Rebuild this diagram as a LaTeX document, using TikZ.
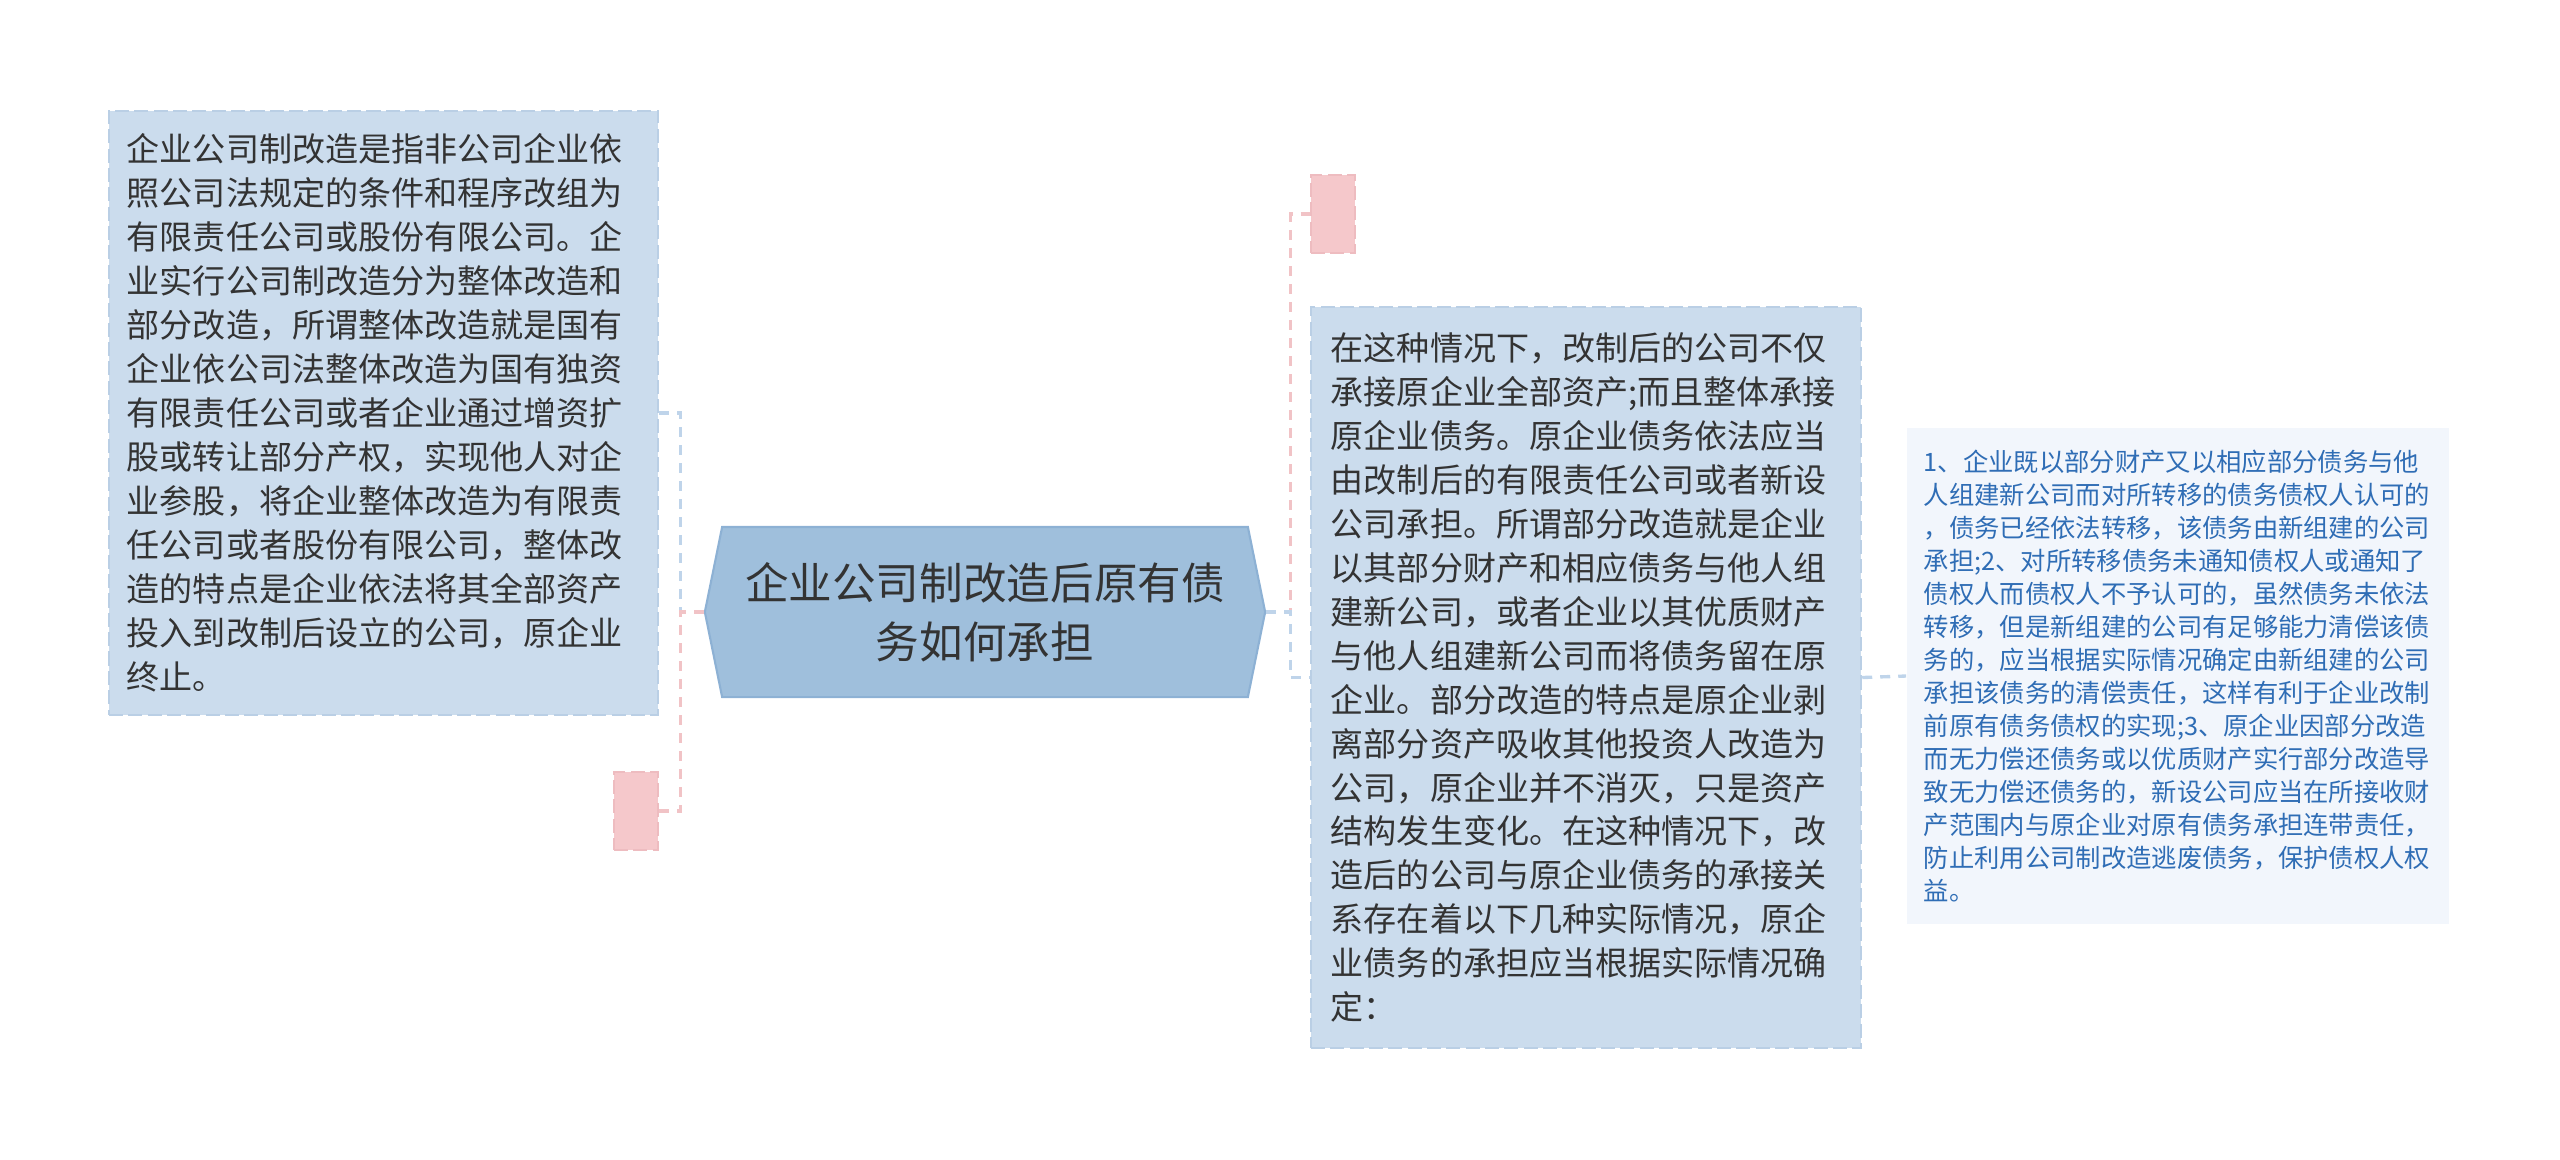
\documentclass[tikz,border=0pt]{standalone}
\usepackage{fontspec}
\newfontfamily\cjk{Noto Sans CJK SC}
\usetikzlibrary{shapes.symbols}
\definecolor{boxblue}{HTML}{CBDCED}
\definecolor{boxedge}{HTML}{BACFE5}
\definecolor{rootblue}{HTML}{9FBFDC}
\definecolor{rootedge}{HTML}{8DB1D4}
\definecolor{pinkfill}{HTML}{F5C8CB}
\definecolor{pinkedge}{HTML}{EEBCC0}
\definecolor{paleblue}{HTML}{F2F6FC}
\definecolor{linkblue}{HTML}{BFD4EA}
\definecolor{linkpink}{HTML}{F1C3C6}
\definecolor{inkdark}{HTML}{333333}
\definecolor{inkblue}{HTML}{2F6DB5}
\tikzset{
  topic/.style={
    rectangle, fill=boxblue, draw=boxedge, line width=0.6pt,
    dash pattern=on 4pt off 1.5pt,
    inner xsep=0.18cm, inner ysep=0pt, align=left, text=inkdark,
    font=\cjk\fontsize{9.4pt}{12.5pt}\selectfont
  },
  rootbox/.style={
    signal, signal to=west and east, signal pointer angle=157,
    fill=rootblue, draw=rootedge, line width=0.6pt,
    minimum width=5.6cm, minimum height=1.7cm, inner sep=0pt,
    align=center, text=inkdark,
    font=\cjk\fontsize{12.4pt}{16.7pt}\selectfont
  },
  stub/.style={
    rectangle, fill=pinkfill, draw=pinkedge, line width=0.6pt,
    dash pattern=on 4pt off 1.5pt, inner sep=0pt,
    minimum width=0.44cm, minimum height=0.78cm
  },
  detail/.style={
    rectangle, fill=paleblue, inner xsep=0.17cm, inner ysep=0pt,
    align=left, text=inkblue, text width=5.08cm,
    minimum width=5.42cm, minimum height=4.96cm,
    font=\cjk\fontsize{7.2pt}{9.4pt}\selectfont
  },
  link/.style={line width=0.95pt, dash pattern=on 0.1cm off 0.08cm},
  bluelink/.style={link, draw=linkblue},
  pinklink/.style={link, draw=linkpink}
}
\begin{document}
\begin{tikzpicture}[x=0.01cm,y=-0.01cm]
\useasboundingbox (0,0) rectangle (2560,1159);

\node[rootbox] (root) at (985,612) {企业公司制改造后原有债\\务如何承担};

\node[topic, text width=5.13cm, minimum height=6.04cm] (lbox) at (383.5,413) {%
企业公司制改造是指非公司企业依\\
照公司法规定的条件和程序改组为\\
有限责任公司或股份有限公司。企\\
业实行公司制改造分为整体改造和\\
部分改造，所谓整体改造就是国有\\
企业依公司法整体改造为国有独资\\
有限责任公司或者企业通过增资扩\\
股或转让部分产权，实现他人对企\\
业参股，将企业整体改造为有限责\\
任公司或者股份有限公司，整体改\\
造的特点是企业依法将其全部资产\\
投入到改制后设立的公司，原企业\\
终止。};
\node[stub] (pbot) at (636,811) {};

\node[stub] (ptop) at (1333,214) {};
\node[topic, inner xsep=0.2cm, text width=5.1cm, minimum height=7.41cm] (rbox) at (1586,677.5) {%
在这种情况下，改制后的公司不仅\\
承接原企业全部资产;而且整体承接\\
原企业债务。原企业债务依法应当\\
由改制后的有限责任公司或者新设\\
公司承担。所谓部分改造就是企业\\
以其部分财产和相应债务与他人组\\
建新公司，或者企业以其优质财产\\
与他人组建新公司而将债务留在原\\
企业。部分改造的特点是原企业剥\\
离部分资产吸收其他投资人改造为\\
公司，原企业并不消灭，只是资产\\
结构发生变化。在这种情况下，改\\
造后的公司与原企业债务的承接关\\
系存在着以下几种实际情况，原企\\
业债务的承担应当根据实际情况确\\
定：};

\node[detail] (fbox) at (2178,676) {%
1、企业既以部分财产又以相应部分债务与他\\
人组建新公司而对所转移的债务债权人认可的\\
，债务已经依法转移，该债务由新组建的公司\\
承担;2、对所转移债务未通知债权人或通知了\\
债权人而债权人不予认可的，虽然债务未依法\\
转移，但是新组建的公司有足够能力清偿该债\\
务的，应当根据实际情况确定由新组建的公司\\
承担该债务的清偿责任，这样有利于企业改制\\
前原有债务债权的实现;3、原企业因部分改造\\
而无力偿还债务或以优质财产实行部分改造导\\
致无力偿还债务的，新设公司应当在所接收财\\
产范围内与原企业对原有债务承担连带责任，\\
防止利用公司制改造逃废债务，保护债权人权\\
益。};

\draw[bluelink] (root.west) -- ++(-23,0) |- (lbox.east);
\draw[pinklink] (root.west) -- ++(-23,0) |- (pbot.east);
\draw[pinklink] (root.east) -- ++(24,0) |- (ptop.west);
\draw[bluelink] (root.east) -- ++(24,0) |- (rbox.west);
\draw[bluelink] (rbox.east) -- (fbox.west);
\end{tikzpicture}
\end{document}
